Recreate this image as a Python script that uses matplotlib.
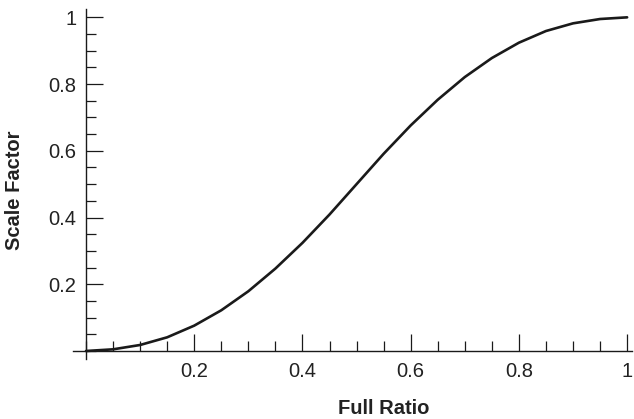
import matplotlib
matplotlib.use("Agg")
import matplotlib.pyplot as plt
from matplotlib.ticker import MultipleLocator, FixedLocator

# curve
full_ratio = [0.0, 0.05, 0.1, 0.15, 0.2, 0.25, 0.3, 0.35, 0.4, 0.45, 0.5,
              0.55, 0.6, 0.65, 0.7, 0.75, 0.8, 0.85, 0.9, 0.95, 1.0]
scale_factor = [0.0, 0.005, 0.018, 0.041, 0.076, 0.122, 0.179, 0.247, 0.324, 0.409, 0.5,
                0.591, 0.676, 0.753, 0.821, 0.878, 0.924, 0.959, 0.982, 0.995, 1.0]

x_ticks = [0.2, 0.4, 0.6, 0.8, 1.0]
x_tick_labels = ["0.2", "0.4", "0.6", "0.8", "1"]
y_ticks = [0.2, 0.4, 0.6, 0.8, 1.0]
y_tick_labels = ["0.2", "0.4", "0.6", "0.8", "1"]

plt.rcParams['font.family'] = ['Liberation Sans', 'DejaVu Sans']

W, H = 634, 419
fig = plt.figure(figsize=(W / 100, H / 100), dpi=100)
ax = fig.add_axes([73 / W, 1 - 359 / H, (632 - 73) / W, (359 - 9) / H])

ax.plot(full_ratio, scale_factor, color='#1a1a1a', linewidth=1.9,
        solid_capstyle='round', solid_joinstyle='round')

ax.set_xlim(-0.024, 1.009)
ax.set_ylim(-0.024, 1.025)

for s in ['top', 'right']:
    ax.spines[s].set_visible(False)
ax.spines['left'].set_position(('data', 0))
ax.spines['bottom'].set_position(('data', 0))
for s in ['left', 'bottom']:
    ax.spines[s].set_linewidth(1.0)
    ax.spines[s].set_color('#1a1a1a')

ax.xaxis.set_major_locator(FixedLocator(x_ticks))
ax.set_xticklabels(x_tick_labels)
ax.yaxis.set_major_locator(FixedLocator(y_ticks))
ax.set_yticklabels(y_tick_labels)
ax.xaxis.set_minor_locator(MultipleLocator(0.05))
ax.yaxis.set_minor_locator(MultipleLocator(0.05))

ax.tick_params(which='major', direction='in', length=12, width=0.9, color='#1a1a1a',
               labelsize=14.5, labelcolor='#222222')
ax.tick_params(which='minor', direction='in', length=7, width=0.9, color='#1a1a1a')
ax.tick_params(axis='x', which='major', pad=8)
ax.tick_params(axis='y', which='major', pad=7)

ax.set_xlabel("Full Ratio", fontsize=14.5, fontweight='bold', color='#222222')
ax.set_ylabel("Scale Factor", fontsize=14.5, fontweight='bold', color='#222222')
# xlabel anchored by its top edge, ylabel by its right edge
ax.xaxis.set_label_coords((384 - 73) / (632 - 73), -(399 - 359) / (359 - 9))
ax.yaxis.set_label_coords(-(73 - 24) / (632 - 73), (359 - 190) / (359 - 9))

fig.savefig("out.png", dpi=100, facecolor='white')
